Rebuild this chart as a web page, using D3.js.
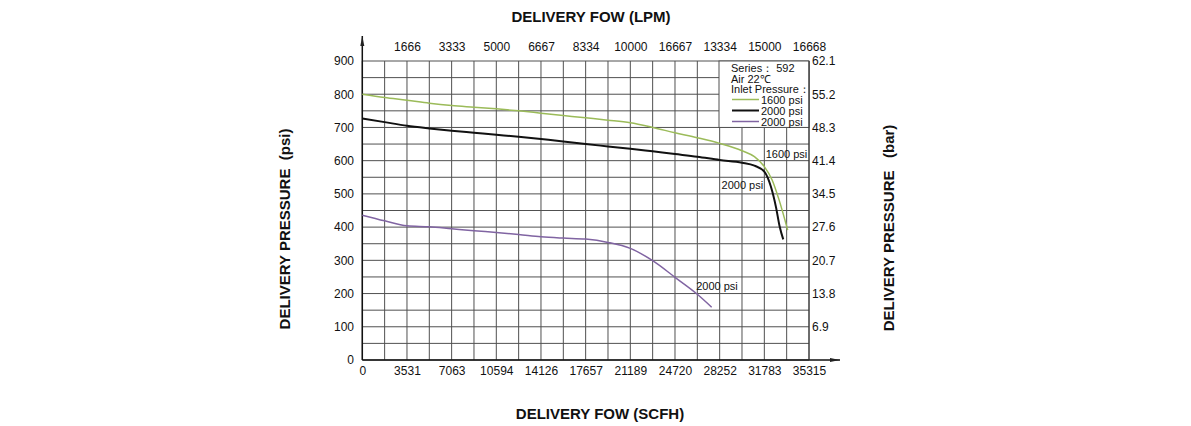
<!DOCTYPE html>
<html>
<head>
<meta charset="utf-8">
<script src="https://cdn.jsdelivr.net/npm/d3@7/dist/d3.min.js"></script>
<style>
body { margin: 0; background: #fff; }
svg text { font-family: Arial, "Liberation Sans", sans-serif; }
.narrow { font-family: "Liberation Sans Narrow", "Arial Narrow", Arial, sans-serif; font-stretch: condensed; }
</style>
</head>
<body>
<svg id="chart" width="1191" height="426"></svg>
<script>
// flow in SCFH, pressure in psi
var flowTicks = [0, 3531, 7063, 10594, 14126, 17657, 21189, 24720, 28252, 31783, 35315];
var lpmLabels = ["", "1666", "3333", "5000", "6667", "8334", "10000", "16667", "13334", "15000", "16668"];
var psiTicks = [0, 100, 200, 300, 400, 500, 600, 700, 800, 900];
var barLabels = ["", "6.9", "13.8", "20.7", "27.6", "34.5", "41.4", "48.3", "55.2", "62.1"];

var flow1600 = [0, 1766, 3531, 5297, 7063, 8829, 10594, 12360, 14126, 15892, 17657, 19423, 21189, 22955, 24720, 26486, 28252, 30018, 31000, 31783, 32400, 32950, 33630];
var psi1600  = [800, 790, 782, 773, 766, 761, 756, 750, 743, 736, 729, 722, 714, 700, 684, 669, 652, 630, 612, 582, 542, 482, 391];

var flow2000 = [0, 1766, 3531, 5297, 7063, 8829, 10594, 12360, 14126, 15892, 17657, 19423, 21189, 22955, 24720, 26486, 28252, 30018, 31000, 31783, 32300, 32700, 33000, 33280];
var psi2000  = [727, 716, 705, 697, 690, 684, 678, 672, 665, 658, 650, 643, 636, 628, 620, 612, 602, 594, 585, 567, 522, 461, 401, 363];

var flow2000b = [0, 1766, 3531, 5297, 7063, 8829, 10594, 12360, 14126, 15892, 17657, 19423, 21189, 22955, 24720, 26486, 27620];
var psi2000b  = [436, 419, 404, 401, 395, 389, 384, 378, 371, 367, 364, 354, 336, 299, 249, 198, 159];

var seriesNames = ["1600 psi", "2000 psi", "2000 psi"];
var seriesColors = ["#9bbb59", "#111111", "#8064a2"];
var seriesWidths = [1.5, 2, 1.5];
// curve labels: [flow, psi]
var labelFlow = [31890, 28400, 26400];
var labelPsi = [608, 515, 212];

var svg = d3.select("#chart");

var x = d3.scaleLinear().domain([0, 35315]).range([362.3, 809]);
var y = d3.scaleLinear().domain([0, 900]).range([360, 61]);

// grid
var grid = svg.append("g").attr("class", "grid");
grid.selectAll(".vline").data(d3.range(0, 21)).enter().append("line")
	.attr("x1", function(d) { return x(d * 35315 / 20); })
	.attr("x2", function(d) { return x(d * 35315 / 20); })
	.attr("y1", y(900)).attr("y2", y(0))
	.style("stroke", "#505050").style("stroke-width", 1);
grid.selectAll(".hline").data(d3.range(0, 19)).enter().append("line")
	.attr("x1", x(0)).attr("x2", x(35315))
	.attr("y1", function(d) { return y(d * 50); })
	.attr("y2", function(d) { return y(d * 50); })
	.style("stroke", "#505050").style("stroke-width", 1);

// legend box (covers grid)
var legend = svg.append("g").attr("class", "legend");
legend.append("rect").attr("x", 719).attr("y", y(900)).attr("width", x(35315) - 719).attr("height", y(700) - y(900))
	.style("fill", "#fff").style("stroke", "#505050").style("stroke-width", 1);

// axes lines with arrows
svg.append("defs").append("marker").attr("id", "arrow").attr("viewBox", "0 0 10 6")
	.attr("refX", 10).attr("refY", 3).attr("markerWidth", 10).attr("markerHeight", 6)
	.attr("markerUnits", "userSpaceOnUse").attr("orient", "auto")
	.append("path").attr("d", "M0,1L10,3L0,5Z").style("fill", "#222");

svg.append("line").attr("x1", x(0)).attr("y1", y(0)).attr("x2", x(0)).attr("y2", 36)
	.style("stroke", "#111").style("stroke-width", 1.5).attr("marker-end", "url(#arrow)");
svg.append("line").attr("x1", x(0)).attr("y1", y(0)).attr("x2", 840).attr("y2", y(0))
	.style("stroke", "#111").style("stroke-width", 1.5).attr("marker-end", "url(#arrow)");
svg.append("line").attr("x1", x(35315)).attr("y1", y(900)).attr("x2", x(35315)).attr("y2", y(0))
	.style("stroke", "#333").style("stroke-width", 1);

// tick labels
var bottomAxis = svg.append("g").attr("transform", "translate(0," + y(0) + ")")
	.call(d3.axisBottom(x).tickValues(flowTicks).tickSize(0).tickPadding(6).tickFormat(function(d) { return d; }));
var topAxis = svg.append("g").attr("transform", "translate(0," + 51 + ")")
	.call(d3.axisTop(x).tickValues(flowTicks).tickSize(0).tickPadding(0).tickFormat(function(d, i) { return lpmLabels[i]; }));
var leftAxis = svg.append("g").attr("transform", "translate(" + 362 + ",0)")
	.call(d3.axisLeft(y).tickValues(psiTicks).tickSize(0).tickPadding(8).tickFormat(function(d) { return d; }));
var rightAxis = svg.append("g").attr("transform", "translate(" + 809 + ",0)")
	.call(d3.axisRight(y).tickValues(psiTicks).tickSize(0).tickPadding(3).tickFormat(function(d, i) { return barLabels[i]; }));

[bottomAxis, topAxis, leftAxis, rightAxis].forEach(function(a) {
	a.select(".domain").remove();
	a.selectAll("text").style("font-family", "Arial, 'Liberation Sans', sans-serif").style("font-size", "12px").style("fill", "#111");
});

// curves
var line = d3.line()
	.x(function(d) { return x(d[0]); })
	.y(function(d) { return y(d[1]); })
	.curve(d3.curveMonotoneX);

var seriesData = [d3.zip(flow1600, psi1600), d3.zip(flow2000, psi2000), d3.zip(flow2000b, psi2000b)];

svg.selectAll(".curve").data(seriesData).enter().append("path")
	.attr("class", "curve")
	.attr("d", line)
	.style("fill", "none")
	.style("stroke", function(d, i) { return seriesColors[i]; })
	.style("stroke-width", function(d, i) { return seriesWidths[i]; });

svg.selectAll(".curveLabel").data(seriesNames).enter().append("text")
	.attr("class", "curveLabel narrow")
	.attr("x", function(d, i) { return x(labelFlow[i]); })
	.attr("y", function(d, i) { return y(labelPsi[i]); })
	.style("font-size", "11px").style("fill", "#111")
	.text(function(d) { return d; });

// legend content
var legendLines = ["Series\uff1a 592", "Air 22\u2103", "Inlet Pressure\uff1a"];
legend.selectAll(".legText").data(legendLines).enter().append("text")
	.attr("class", "legText narrow")
	.attr("x", 731).attr("y", function(d, i) { return 72 + i * 10.6; })
	.style("font-size", "11px").style("fill", "#111")
	.text(function(d) { return d; });
var legItems = legend.selectAll(".legItem").data(seriesNames).enter().append("g").attr("class", "legItem");
legItems.append("line")
	.attr("x1", 732).attr("x2", 759)
	.attr("y1", function(d, i) { return 99.5 + i * 11; })
	.attr("y2", function(d, i) { return 99.5 + i * 11; })
	.style("stroke", function(d, i) { return seriesColors[i]; })
	.style("stroke-width", function(d, i) { return seriesWidths[i]; });
legItems.append("text")
	.attr("class", "narrow")
	.attr("x", 761).attr("y", function(d, i) { return 103.5 + i * 11; })
	.style("font-size", "11px").style("fill", "#111")
	.text(function(d) { return d; });

// titles
svg.append("text").attr("x", 591).attr("y", 22).style("text-anchor", "middle")
	.style("font-size", "15px").style("font-weight", "bold").style("fill", "#111")
	.text("DELIVERY FOW (LPM)");
svg.append("text").attr("x", 600).attr("y", 419).style("text-anchor", "middle")
	.style("font-size", "15px").style("font-weight", "bold").style("fill", "#111")
	.text("DELIVERY FOW (SCFH)");
svg.append("text").attr("transform", "translate(290,229) rotate(-90)").style("text-anchor", "middle")
	.style("font-size", "15px").style("font-weight", "bold").style("fill", "#111").style("white-space", "pre")
	.text("DELIVERY PRESSURE  (psi)");
svg.append("text").attr("transform", "translate(894,228) rotate(-90)").style("text-anchor", "middle")
	.style("font-size", "15px").style("font-weight", "bold").style("fill", "#111").style("white-space", "pre")
	.text("DELIVERY PRESSURE   (bar)");
</script>
</body>
</html>
